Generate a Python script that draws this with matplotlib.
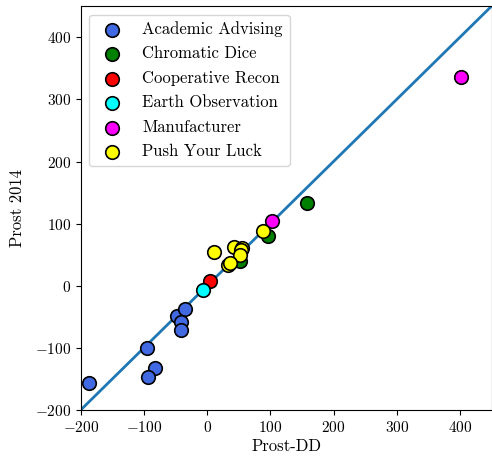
import matplotlib
matplotlib.use("Agg")
import matplotlib.pyplot as plt
import numpy as np

plt.rcParams['font.family'] = ['cmr10', 'DejaVu Serif']
plt.rcParams['mathtext.fontset'] = 'cm'
plt.rcParams['axes.formatter.use_mathtext'] = True
plt.rcParams['font.size'] = 11

domains = ["Academic Advising", "Chromatic Dice", "Cooperative Recon",
           "Earth Observation", "Manufacturer", "Push Your Luck"]
colors = ["royalblue", "green", "red", "cyan", "magenta", "yellow"]

prost_dd = {
    "Academic Advising": [-187, -95, -82, -94, -48, -35, -41, -41],
    "Chromatic Dice": [158, 97, 52],
    "Cooperative Recon": [4],
    "Earth Observation": [-7],
    "Manufacturer": [402, 103],
    "Push Your Luck": [88, 11, 43, 56, 53, 52, 33, 37],
}
prost_2014 = {
    "Academic Advising": [-157, -101, -133, -147, -48, -37, -58, -72],
    "Chromatic Dice": [133, 80, 40],
    "Cooperative Recon": [8],
    "Earth Observation": [-7],
    "Manufacturer": [336, 104],
    "Push Your Luck": [88, 55, 63, 61, 57, 50, 34, 37],
}
lims = [-200, 450]
xticks = [-200, -100, 0, 100, 200, 300, 400]
yticks = [-200, -100, 0, 100, 200, 300, 400]

fig = plt.figure(figsize=(4.92, 4.63), dpi=100)
ax = fig.add_axes([80.7 / 492, 53 / 463, (491.5 - 80.7) / 492, (410 - 6.2) / 463])

ax.plot(lims, lims, color="#1f77b4", lw=2, zorder=1)
for d, c in zip(domains, colors):
    ax.scatter(prost_dd[d], prost_2014[d], s=95, color=c, edgecolors="black",
               linewidths=1.2, label=d, zorder=3)

ax.set_xlim(lims)
ax.set_ylim(lims)
ax.set_xticks(xticks)
ax.set_yticks(yticks)
ax.set_xlabel("Prost-DD", fontsize=12, labelpad=3)
ax.set_ylabel("Prost 2014", fontsize=12, labelpad=7)
ax.legend(loc="upper left", fontsize=12, labelspacing=0.55)

fig.savefig("out.png", dpi=100)
